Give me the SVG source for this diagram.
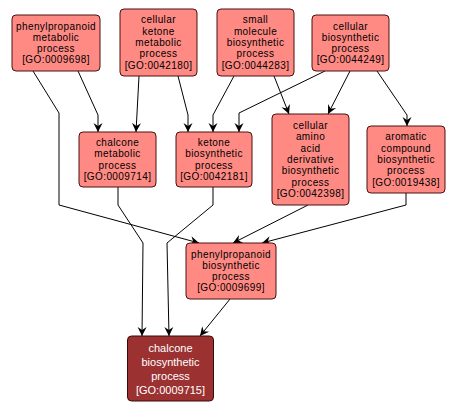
<svg xmlns="http://www.w3.org/2000/svg" width="456" height="411" viewBox="0 0 456 411">
<style>
.n rect{fill:#ff8a84;stroke:#4a1010;stroke-width:1}
.n text{font-family:"Liberation Sans",Arial,sans-serif;font-size:10px;letter-spacing:0.4px;fill:#000;text-anchor:middle}
.d rect{fill:#9b3131;stroke:#3a0a0a;stroke-width:1}
.d text{font-family:"Liberation Sans",Arial,sans-serif;font-size:11px;fill:#fff;text-anchor:middle}
#edges path{fill:none;stroke:#000;stroke-width:1;marker-end:url(#arr)}
</style>
<defs>
<marker id="arr" markerUnits="userSpaceOnUse" markerWidth="12" markerHeight="12" refX="0" refY="0" viewBox="-10 -6 12 12" orient="auto" overflow="visible">
<path d="M0,0 L-9,-4.5 L-6,0 L-9,4.5 Z" fill="#000"/>
</marker>
</defs>
<rect width="456" height="411" fill="#fff"/>
<g id="edges">
<path d="M78,71 L98,115 L98,132"/>
<path d="M33,71 L59,113 L59,205 L199,243"/>
<path d="M139,76 L136,132"/>
<path d="M178,76 L188,115 L188,132"/>
<path d="M234,76 L213,115 L213,132"/>
<path d="M274,76 L289,114"/>
<path d="M325,71 L239,113 L239,132"/>
<path d="M350,71 L328,114"/>
<path d="M377,71 L407,115 L407,126"/>
<path d="M118,187 L118,205 L143,243 L142,336"/>
<path d="M213,187 L213,205 L167,243 L169,336"/>
<path d="M308,205 L233,243"/>
<path d="M406,193 L406,205 L262,243"/>
<path d="M230,299 L200,336"/>
</g>
<g id="GO0009698" class="n">
<rect x="12" y="15" width="88" height="56" rx="4"/>
<text x="56" y="29.5">phenylpropanoid</text>
<text x="56" y="40.8">metabolic</text>
<text x="56" y="52.1">process</text>
<text x="56" y="63.4">[GO:0009698]</text>
</g>
<g id="GO0042180" class="n">
<rect x="120" y="9" width="77" height="67" rx="4"/>
<text x="158.5" y="23.4">cellular</text>
<text x="158.5" y="34.7">ketone</text>
<text x="158.5" y="46">metabolic</text>
<text x="158.5" y="57.3">process</text>
<text x="158.5" y="68.6">[GO:0042180]</text>
</g>
<g id="GO0044283" class="n">
<rect x="217" y="9" width="77" height="67" rx="4"/>
<text x="255.5" y="23.4">small</text>
<text x="255.5" y="34.7">molecule</text>
<text x="255.5" y="46">biosynthetic</text>
<text x="255.5" y="57.3">process</text>
<text x="255.5" y="68.6">[GO:0044283]</text>
</g>
<g id="GO0044249" class="n">
<rect x="312" y="15" width="77" height="56" rx="4"/>
<text x="350.5" y="29.5">cellular</text>
<text x="350.5" y="40.8">biosynthetic</text>
<text x="350.5" y="52.1">process</text>
<text x="350.5" y="63.4">[GO:0044249]</text>
</g>
<g id="GO0009714" class="n">
<rect x="79" y="132" width="77" height="55" rx="4"/>
<text x="117.5" y="146">chalcone</text>
<text x="117.5" y="157.3">metabolic</text>
<text x="117.5" y="168.6">process</text>
<text x="117.5" y="179.9">[GO:0009714]</text>
</g>
<g id="GO0042181" class="n">
<rect x="176" y="132" width="76" height="55" rx="4"/>
<text x="214" y="146">ketone</text>
<text x="214" y="157.3">biosynthetic</text>
<text x="214" y="168.6">process</text>
<text x="214" y="179.9">[GO:0042181]</text>
</g>
<g id="GO0042398" class="n">
<rect x="272" y="114" width="77" height="91" rx="4"/>
<text x="310.5" y="129.1">cellular</text>
<text x="310.5" y="140.4">amino</text>
<text x="310.5" y="151.7">acid</text>
<text x="310.5" y="163">derivative</text>
<text x="310.5" y="174.3">biosynthetic</text>
<text x="310.5" y="185.6">process</text>
<text x="310.5" y="196.9">[GO:0042398]</text>
</g>
<g id="GO0019438" class="n">
<rect x="367" y="126" width="78" height="67" rx="4"/>
<text x="406" y="140.4">aromatic</text>
<text x="406" y="151.7">compound</text>
<text x="406" y="163">biosynthetic</text>
<text x="406" y="174.3">process</text>
<text x="406" y="185.6">[GO:0019438]</text>
</g>
<g id="GO0009699" class="n">
<rect x="186" y="243" width="90" height="56" rx="4"/>
<text x="231" y="257.5">phenylpropanoid</text>
<text x="231" y="268.8">biosynthetic</text>
<text x="231" y="280.1">process</text>
<text x="231" y="291.4">[GO:0009699]</text>
</g>
<g id="GO0009715" class="d">
<rect x="127.5" y="336" width="86" height="65" rx="4"/>
<text x="170.5" y="351.5">chalcone</text>
<text x="170.5" y="365.5">biosynthetic</text>
<text x="170.5" y="379.5">process</text>
<text x="170.5" y="393.5">[GO:0009715]</text>
</g>
</svg>
